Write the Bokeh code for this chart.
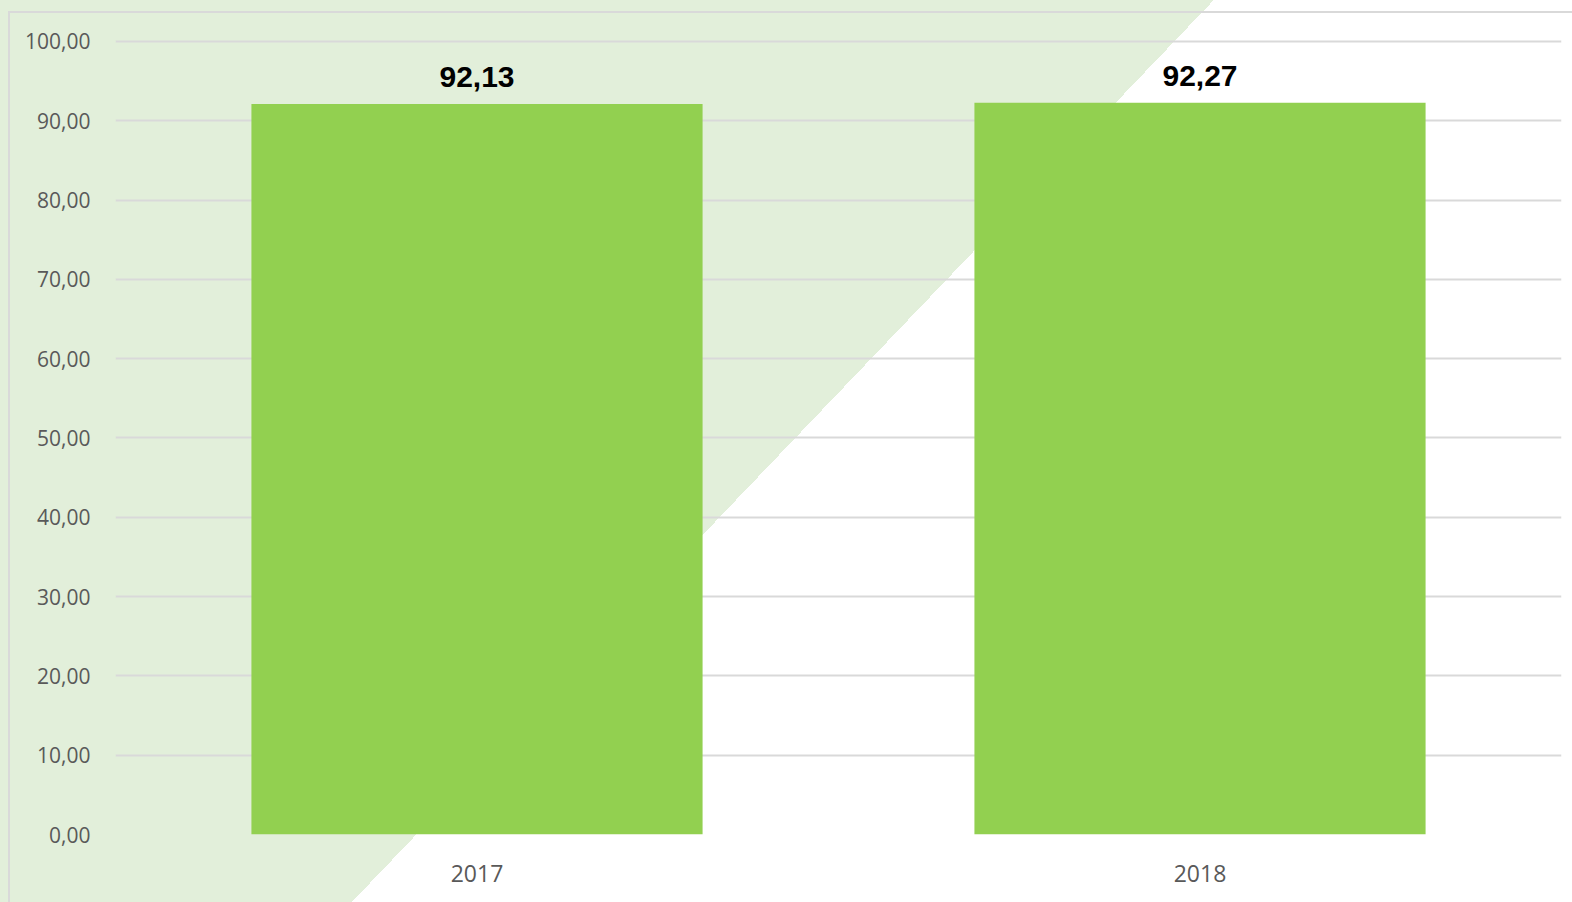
from bokeh.plotting import figure
from bokeh.models import FactorRange, Range1d, FixedTicker, ColumnDataSource
from bokeh.core.properties import value
from bokeh.embed import file_html
from bokeh.resources import INLINE

years = ["2017", "2018"]
values = [92.13, 92.27]
y_ticks = [0, 10, 20, 30, 40, 50, 60, 70, 80, 90, 100]
y_tick_labels = ["0,00", "10,00", "20,00", "30,00", "40,00", "50,00", "60,00", "70,00", "80,00", "90,00", "100,00"]
value_labels = [f"{v:.2f}".replace(".", ",") for v in values]

W, H = 1572, 902
p = figure(width=W, height=H, x_range=FactorRange(factors=years, range_padding=0),
           y_range=Range1d(0, 100.25), output_backend="svg", toolbar_location=None,
           min_border_left=115, min_border_right=11, min_border_top=39, min_border_bottom=68)
p.outline_line_color = None
p.background_fill_alpha = 0
p.border_fill_alpha = 0
# decorative chart border (left / top lines) and diagonal light green wedge
p.styles = {
    "background": (
        "linear-gradient(#D9D9D9, #D9D9D9) no-repeat 8px 11px / 2px 100%, "
        "linear-gradient(#D9D9D9, #D9D9D9) no-repeat 8px 11px / 100% 2px, "
        "linear-gradient(133.7deg, #E2EFDA 49.87%, #FFFFFF 49.87%)"
    )
}

src = ColumnDataSource(dict(x=years, top=values, label=value_labels))
p.vbar(x="x", top="top", width=0.624, source=src, color="#92D050", line_color=None)
p.text(x="x", y="top", text="label", source=src, y_offset=-27,
       text_align="center", text_baseline="alphabetic",
       text_font=value("Liberation Sans"), text_font_style="bold",
       text_font_size="30px", text_color="black")

p.xgrid.grid_line_color = None
p.ygrid.grid_line_color = "#D9D9D9"
p.ygrid.grid_line_width = 2
p.yaxis.ticker = FixedTicker(ticks=y_ticks)
p.yaxis.major_label_overrides = {t: l for t, l in zip(y_ticks, y_tick_labels)}

for ax in (p.xaxis[0], p.yaxis[0]):
    ax.axis_line_color = None
    ax.major_tick_line_color = None
    ax.minor_tick_line_color = None
    ax.major_label_text_font = "Open Sans"
    ax.major_label_text_color = "#595959"
p.yaxis.major_label_text_font_size = "21px"
p.yaxis.major_label_standoff = 19
p.xaxis.major_label_text_font_size = "23px"
p.xaxis.major_label_standoff = 24

open("out.html", "w").write(file_html(p, INLINE))
